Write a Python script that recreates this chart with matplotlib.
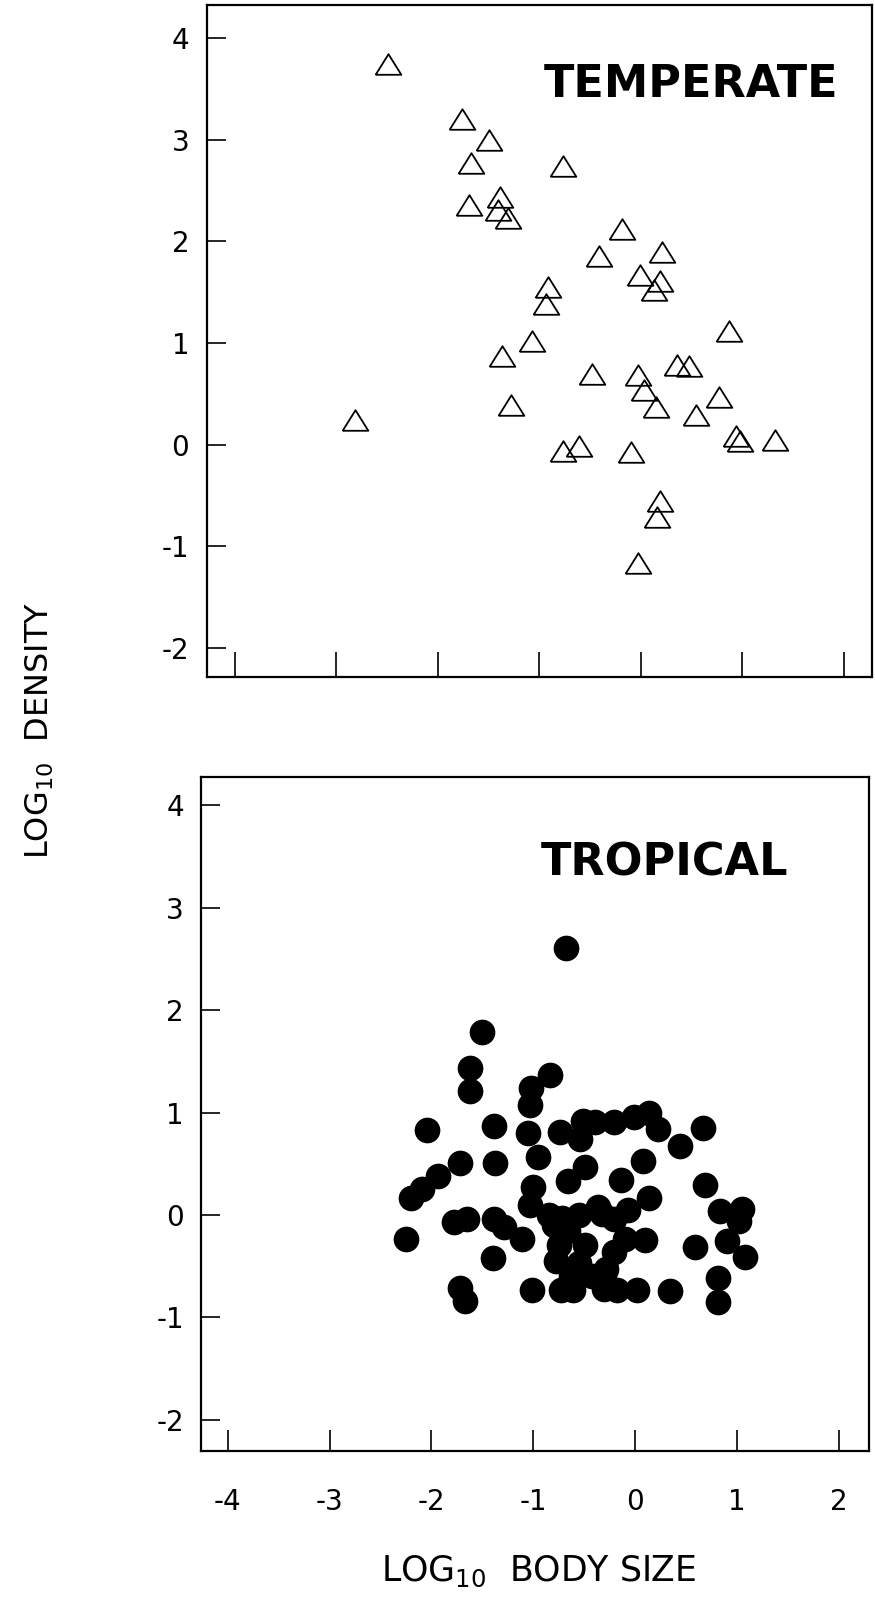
import matplotlib.pyplot as plt

plt.rcParams['font.family'] = ['DejaVu Sans']
plt.rcParams['mathtext.fontset'] = 'dejavusans'
plt.rcParams['axes.unicode_minus'] = False

# temperate species: log10 body size, log10 density
temp_x = [-2.49, -2.82, -1.76, -1.50, -1.67, -1.69, -1.39, -1.41, -1.31, -0.77,
          -0.19, -0.41, 0.21, -0.01, 0.19, 0.13, -0.91, -0.93, 0.87, -1.07,
          -1.37, -0.48, -0.03, 0.36, 0.48, 0.03, 0.15, -1.28, 0.77, 0.54,
          0.94, 0.98, 1.32, -0.77, -0.61, -0.10, 0.19, 0.16, -0.03]
temp_y = [3.74, 0.24, 3.20, 3.00, 2.77, 2.36, 2.44, 2.31, 2.23, 2.74,
          2.12, 1.86, 1.90, 1.67, 1.61, 1.52, 1.55, 1.38, 1.12, 1.02,
          0.87, 0.70, 0.69, 0.78, 0.77, 0.54, 0.37, 0.39, 0.47, 0.29,
          0.09, 0.04, 0.05, -0.06, -0.01, -0.07, -0.55, -0.71, -1.16]

# tropical species
trop_x = [-0.68, -1.50, -1.62, -1.62, -0.84, -1.02, -1.03, -2.04, -1.39, -1.05,
          -0.74, -0.54, -0.51, -0.39, -0.21, -0.01, 0.14, 0.22, 0.44, 0.67,
          -1.72, -1.38, -0.95, 0.08, -0.49, -1.94, -2.09, -2.20, -0.66, -0.14,
          -1.00, 0.69, 0.14, -1.03, -0.36, 0.83, 1.05, 1.02, -1.78, -1.65,
          -1.39, -1.29, -0.85, -0.72, -0.55, -0.33, -0.07, -0.80, -2.25, -1.11,
          -1.40, -0.75, -0.78, -0.49, -0.55, -0.10, 0.10, -0.21, 0.59, 0.90,
          1.08, -0.29, -0.63, -1.72, -1.67, -1.01, -0.73, -0.61, -0.31, -0.18,
          0.02, 0.34, 0.81, 0.81, -0.31, -0.21, -0.66, -0.42]
trop_y = [2.61, 1.79, 1.44, 1.21, 1.37, 1.24, 1.07, 0.83, 0.87, 0.80,
          0.81, 0.74, 0.92, 0.91, 0.91, 0.96, 1.00, 0.84, 0.67, 0.85,
          0.51, 0.51, 0.57, 0.53, 0.47, 0.38, 0.25, 0.17, 0.33, 0.34,
          0.27, 0.29, 0.17, 0.10, 0.08, 0.04, 0.06, -0.06, -0.07, -0.04,
          -0.04, -0.12, 0.00, -0.03, 0.00, 0.01, 0.05, -0.10, -0.23, -0.23,
          -0.42, -0.29, -0.45, -0.29, -0.47, -0.23, -0.24, -0.36, -0.31, -0.25,
          -0.41, -0.53, -0.60, -0.71, -0.84, -0.73, -0.73, -0.73, -0.72, -0.73,
          -0.73, -0.74, -0.62, -0.85, -0.59, -0.04, -0.16, -0.60]

xticks = [-4, -3, -2, -1, 0, 1, 2]
yticks = [-2, -1, 0, 1, 2, 3, 4]

fig = plt.figure(figsize=(8.75, 15.98), dpi=100)
ax1 = fig.add_axes([0.2361, 0.5763, 0.760, 0.4203])
ax2 = fig.add_axes([0.2301, 0.0917, 0.7634, 0.4222])

tri = [(-1, -0.8), (1, -0.8), (0, 0.8), (-1, -0.8)]
ax1.plot(temp_x, temp_y, linestyle='none', marker=tri, markersize=18.5,
         markerfacecolor='none', markeredgecolor='black', markeredgewidth=1.3)
ax2.plot(trop_x, trop_y, linestyle='none', marker='o', markersize=18.5,
         markerfacecolor='black', markeredgecolor='black', markeredgewidth=0)

ax1.set_xlim(-4.28, 2.275)
ax1.set_ylim(-2.285, 4.32)
ax2.set_xlim(-4.26, 2.30)
ax2.set_ylim(-2.31, 4.28)

for ax in (ax1, ax2):
    ax.set_xticks(xticks)
    ax.set_yticks(yticks)
    for s in ax.spines.values():
        s.set_linewidth(1.6)
    ax.tick_params(axis='y', direction='in', length=14, width=1.2,
                   labelsize=20, pad=12.5)
    ax.tick_params(axis='x', direction='in', length=15, width=1.2,
                   labelsize=20, pad=26)

ax1.tick_params(axis='x', labelbottom=False, length=18)

ax1.text(0.728, 0.864, 'TEMPERATE', transform=ax1.transAxes, ha='center',
         va='baseline', fontsize=32, fontweight='bold')
ax2.text(0.693, 0.853, 'TROPICAL', transform=ax2.transAxes, ha='center',
         va='baseline', fontsize=32, fontweight='bold')

fig.text(0.616, 0.0108, r'LOG$_{10}$  BODY SIZE', ha='center', va='baseline',
         fontsize=25)
fig.text(0.046, 0.543, r'LOG$_{10}$  DENSITY', ha='center', va='center',
         rotation=90, fontsize=23)

plt.savefig('out.png', dpi=100)
